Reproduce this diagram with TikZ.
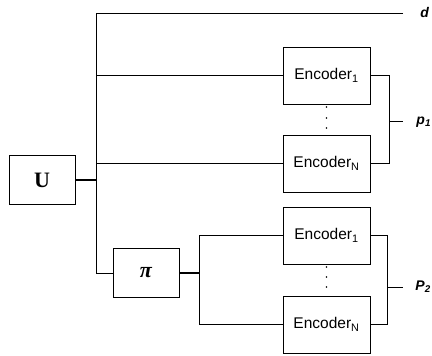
\documentclass[tikz,border=0pt]{standalone}
\usepackage{fontspec}
\setmainfont{Liberation Sans}
\newfontfamily\serifb{Liberation Serif}
\begin{document}
\begin{tikzpicture}[x=1pt,y=1pt,line width=0.9pt,
  enc/.style={draw,minimum width=87pt,minimum height=57pt,inner sep=0pt,font=\fontsize{15.5}{18}\selectfont},
  blk/.style={draw,minimum width=66pt,minimum height=49pt,inner sep=0pt},
  lbl/.style={font=\fontsize{14}{17}\selectfont\bfseries\itshape,inner sep=0pt,anchor=west},
  thk/.style={line width=1.8pt},
  dotc/.style={fill,circle,inner sep=0pt,minimum size=1.6pt}]
\useasboundingbox (0,0) rectangle (432,356);
% blocks
\node[blk,font=\fontsize{22}{24}\selectfont\serifb\bfseries] (U) at (42,176) {U};
\node[blk,font=\fontsize{22}{24}\selectfont\serifb\bfseries\itshape] (pi) at (146,83) {π};
\node[enc] (e1) at (326.5,280.5) {Encoder\textsubscript{1}};
\node[enc] (eN) at (326.5,192.5) {Encoder\textsubscript{N}};
\node[enc] (f1) at (326.5,120.5) {Encoder\textsubscript{1}};
\node[enc] (fN) at (326.5,31.5) {Encoder\textsubscript{N}};
% coordinates
\coordinate (btop) at (96,343);
\coordinate (bbot) at (96,83);
\coordinate (dend) at (403,343);
\coordinate (pbus) at (199,83);
\coordinate (r1) at (389,235);
\coordinate (p1end) at (403,235);
\coordinate (r2) at (387,69);
\coordinate (p2end) at (403,69);
% labels
\node[lbl] (d) at (420,343) {d};
\node[lbl] (p1) at (416,234) {p\textsubscript{1}};
\node[lbl] (p2) at (415,69) {P\textsubscript{2}};
% connectors
\draw (dend) -- (btop) -- (bbot) -- (pi.west);
\draw[thk] (U.east) -- (U.east -| btop);
\draw (btop |- e1.west) -- (e1.west);
\draw (btop |- eN.west) -- (eN.west);
\draw[thk] (pi.east) -- (pbus);
\draw (f1.west) -- (pbus |- f1.west) -- (pbus |- fN.west) -- (fN.west);
\draw (e1.east) -- (r1 |- e1.east) -- (r1 |- eN.east) -- (eN.east);
\draw (r1) -- (p1end);
\draw (f1.east) -- (r2 |- f1.east) -- (r2 |- fN.east) -- (fN.east);
\draw (r2) -- (p2end);
% dots
\node[dotc] (a1) at (326.5,249) {};
\node[dotc] (a2) at (326.5,238) {};
\node[dotc] (a3) at (326.5,228) {};
\node[dotc] (b1) at (326.5,89) {};
\node[dotc] (b2) at (326.5,79) {};
\node[dotc] (b3) at (326.5,69) {};
\end{tikzpicture}
\end{document}
